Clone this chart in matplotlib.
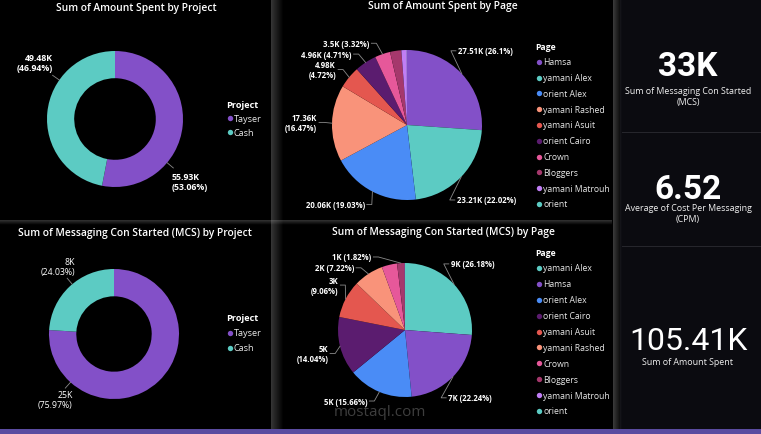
import numpy as np
import matplotlib.pyplot as plt
from matplotlib.patches import Rectangle

W, H = 761, 435

# ---- data ----
projects = ["Tayser", "Cash"]
spent_by_project = [55.93, 49.48]      # K
mcs_by_project = [25070, 7930]

pages_spent = ["Hamsa", "yamani Alex", "orient Alex", "yamani Rashed", "yamani Asuit",
               "orient Cairo", "Crown", "Bloggers", "yamani Matrouh", "orient"]
spent_by_page = [27.51, 23.21, 20.06, 17.36, 4.98, 4.96, 3.50, 2.55, 1.25, 0.03]  # K
spent_labelled = [True, True, True, True, True, True, True, False, False, False]

pages_mcs = ["yamani Alex", "Hamsa", "orient Alex", "orient Cairo", "yamani Asuit",
             "yamani Rashed", "Crown", "Bloggers", "yamani Matrouh", "orient"]
mcs_by_page = [8640, 7339, 5168, 4633, 2990, 2383, 1220, 601, 26, 0]
mcs_labelled = [True, True, True, True, True, True, False, True, False, False]

avg_cpm = 6.52

page_colors = {"Hamsa": "#8350c8", "yamani Alex": "#5ccbc3", "orient Alex": "#4a8cf6",
               "yamani Rashed": "#f9937a", "yamani Asuit": "#e4574f", "orient Cairo": "#5b1c6f",
               "Crown": "#e6589a", "Bloggers": "#a5386c", "yamani Matrouh": "#c07ef5",
               "orient": "#5ccbc3"}
project_colors = {"Tayser": "#8350c8", "Cash": "#5ccbc3"}

plt.rcParams['font.family'] = ['Open Sans', 'DejaVu Sans']
WHITE = "#ffffff"
LEAD = "#8a8a8a"

fig = plt.figure(figsize=(W / 100, H / 100), dpi=100, facecolor="#000000")
ax = fig.add_axes([0, 0, 1, 1])
ax.set_facecolor("#000000")
ax.axis("off")


def Y(py):
    return H - py


def fmt_pct(p):
    return f"{p:.2f}".rstrip("0").rstrip(".") + "%"


def fmt_k(v):
    return f"{v:.2f}".rstrip("0").rstrip(".") + "K"


# ---- background: panels & separators ----
ax.add_patch(Rectangle((620, Y(430)), W - 620, 430, color="#0b0b10", lw=0, zorder=0))
for k, a in enumerate(np.linspace(0.28, 0.02, 12)):
    ax.add_patch(Rectangle((271 + k, Y(430)), 1, 430, color="#bbbbbb", alpha=a, lw=0, zorder=1))
for k, a in enumerate(np.linspace(0.30, 0.02, 9)):
    ax.add_patch(Rectangle((613 + k, Y(430)), 1, 430, color="#bbbbbb", alpha=a, lw=0, zorder=1))
for k, a in enumerate(np.linspace(0.25, 0.02, 5)):
    ax.add_patch(Rectangle((0, Y(222 + k)), 612, 1, color="#bbbbbb", alpha=a, lw=0, zorder=1))
for yy in (134, 248):
    ax.add_patch(Rectangle((622, Y(yy)), W - 622, 1.2, color="#26262c", lw=0, zorder=1))
ax.add_patch(Rectangle((0, 0), W, 5, color="#5a4ba0", lw=0, zorder=1))


# ---- helpers ----
def legend(x, y, title, names, colors, step, fs=6.2):
    ax.text(x, Y(y), title, color=WHITE, fontsize=fs, fontweight="bold", va="center", ha="left")
    for k, n in enumerate(names):
        yy = Y(y + (k + 1) * step)
        ax.scatter([x + 3.5], [yy], s=15, color=colors[n], lw=0, zorder=5)
        ax.text(x + 8, yy, n, color="#e8e8e8", fontsize=fs, va="center", ha="left")


def pie_labels(vals, cx, cy, r, show, texts, fs):
    vals = np.asarray(vals, float)
    frac = vals / vals.sum()
    mid = (np.cumsum(frac) - frac / 2) * 360
    th = np.deg2rad(90 - mid)
    lh = fs * 1.389 * 1.2
    items = []
    for i in np.flatnonzero(show):
        side = 1 if np.cos(th[i]) >= 0 else -1
        dy = np.clip(1.45 * np.sin(th[i]), -1.06, 1.09) * r
        items.append(dict(i=i, side=side, dy=dy, key=(-dy, side * mid[i])))
    for side in (1, -1):
        grp = sorted([it for it in items if it["side"] == side], key=lambda it: it["key"])
        prev = None

        def place(it, lines):
            dy = it["dy"]
            if prev is not None:
                dy = min(dy, prev[0] - (prev[1] + lines) / 2 * lh - 1.5)
            dx = np.sqrt(max((1.2 * r) ** 2 - dy ** 2, (0.3 * r) ** 2))
            return dy, dx

        for it in grp:
            lines = 1
            dy, dx = place(it, 1)
            if dx > 0.88 * r:
                lines = 2
                dy, dx = place(it, 2)
            prev = (dy, lines)
            i = it["i"]
            v, p = texts[i]
            s = f"{v}\n({p})" if lines == 2 else f"{v} ({p})"
            tx, ty = cx + side * dx, Y(cy) + dy
            ex, ey = cx + r * np.cos(th[i]), Y(cy) + r * np.sin(th[i])
            ax.plot([ex, tx - side * 7, tx - side * 2], [ey, ty, ty], color=LEAD, lw=0.6, zorder=4)
            ax.text(tx, ty, s, color=WHITE, fontsize=fs, fontweight="bold",
                    ha="left" if side > 0 else "right", va="center",
                    multialignment="left" if side > 0 else "right", linespacing=1.15, zorder=6)


def donut_labels(vals, cx, cy, r, texts, polar, fs, weight):
    for (v, p), (rho, deg) in zip(texts, polar):
        t = np.deg2rad(deg)
        side = 1 if np.cos(t) >= 0 else -1
        tx, ty = cx + rho * r * np.cos(t), Y(cy) + rho * r * np.sin(t)
        ax.plot([cx + r * np.cos(t), cx + 1.12 * r * np.cos(t)],
                [Y(cy) + r * np.sin(t), Y(cy) + 1.12 * r * np.sin(t)], color=LEAD, lw=0.6)
        ax.text(tx, ty, f"{v}\n({p})", color=WHITE, fontsize=fs, fontweight=weight,
                ha="center", va="center", multialignment="left" if side > 0 else "right",
                linespacing=1.15)


def title(x, y, s):
    ax.text(x, Y(y), s, color=WHITE, fontsize=7.4, fontweight="semibold", ha="center", va="center")


# ---- top-left: amount spent by project (donut) ----
cx, cy, r = 115, 120, 68
ax.pie(spent_by_project, colors=[project_colors[p] for p in projects], startangle=90,
       counterclock=False, center=(cx, Y(cy)), radius=r,
       wedgeprops=dict(width=0.4 * r, linewidth=0))
tot = sum(spent_by_project)
donut_labels(spent_by_project, cx, cy, r,
             [(fmt_k(v), fmt_pct(100 * v / tot)) for v in spent_by_project],
             [(1.44, -40), (1.44, 145)], 6.3, "bold")
title(136, 8, "Sum of Amount Spent by Project")
legend(226, 105, "Project", projects, project_colors, 14, fs=6.6)

# ---- bottom-left: MCS by project (donut) ----
cx, cy, r = 114, 335, 65
ax.pie(mcs_by_project, colors=[project_colors[p] for p in projects], startangle=90,
       counterclock=False, center=(cx, Y(cy)), radius=r,
       wedgeprops=dict(width=0.42 * r, linewidth=0))
tot = sum(mcs_by_project)
donut_labels(mcs_by_project, cx, cy, r,
             [(f"{v / 1000:.0f}K", fmt_pct(100 * v / tot)) for v in mcs_by_project],
             [(1.35, 228), (1.35, 130)], 6.3, "normal")
title(135, 234, "Sum of Messaging Con Started (MCS) by Project")
legend(226, 319, "Project", projects, project_colors, 15, fs=6.6)

# ---- top-middle: amount spent by page (pie) ----
cx, cy, r = 407, 126, 75
ax.pie(spent_by_page, colors=[page_colors[p] for p in pages_spent], startangle=90,
       counterclock=False, center=(cx, Y(cy)), radius=r, wedgeprops=dict(linewidth=0))
tot = sum(spent_by_page)
pie_labels(spent_by_page, cx, cy, r, spent_labelled,
           [(fmt_k(v), fmt_pct(100 * v / tot)) for v in spent_by_page], 5.6)
title(443, 7, "Sum of Amount Spent by Page")
legend(535, 47, "Page", pages_spent, page_colors, 15.8)

# ---- bottom-middle: MCS by page (pie) ----
cx, cy, r = 405, 331, 67
ax.pie(mcs_by_page, colors=[page_colors[p] for p in pages_mcs], startangle=90,
       counterclock=False, center=(cx, Y(cy)), radius=r, wedgeprops=dict(linewidth=0))
tot = sum(mcs_by_page)
pie_labels(mcs_by_page, cx, cy, r, mcs_labelled,
           [(f"{v / 1000:.0f}K", fmt_pct(100 * v / tot)) for v in mcs_by_page], 5.6)
title(443, 233, "Sum of Messaging Con Started (MCS) by Page")
legend(535, 253, "Page", pages_mcs, page_colors, 15.9)

# watermark
ax.text(380, Y(413), "mostaql.com", color="#9a9a9a", alpha=0.4, fontsize=11, ha="center",
        va="center", zorder=3)

# ---- KPI cards ----
num_font = ["Roboto", "DejaVu Sans"]
kpis = [(f"{sum(mcs_by_page) / 1000:.0f}K", "Sum of Messaging Con Started\n(MCS)", 67, 97, "bold", 24),
        (f"{avg_cpm:.2f}", "Average of Cost Per Messaging\n(CPM)", 190, 214, "bold", 24),
        (fmt_k(sum(spent_by_project)), "Sum of Amount Spent", 342, 363, "normal", 23)]
for val, lab, yv, yl, w, fs in kpis:
    ax.text(688, Y(yv), val, color=WHITE, fontsize=fs, fontweight=w, family=num_font,
            ha="center", va="center")
    ax.text(688, Y(yl), lab, color="#f0f0f0", fontsize=6.4, ha="center", va="center",
            linespacing=1.3)

ax.set_aspect("auto")
ax.set_xlim(0, W)
ax.set_ylim(0, H)
fig.savefig("out.png", dpi=100, facecolor=fig.get_facecolor())
